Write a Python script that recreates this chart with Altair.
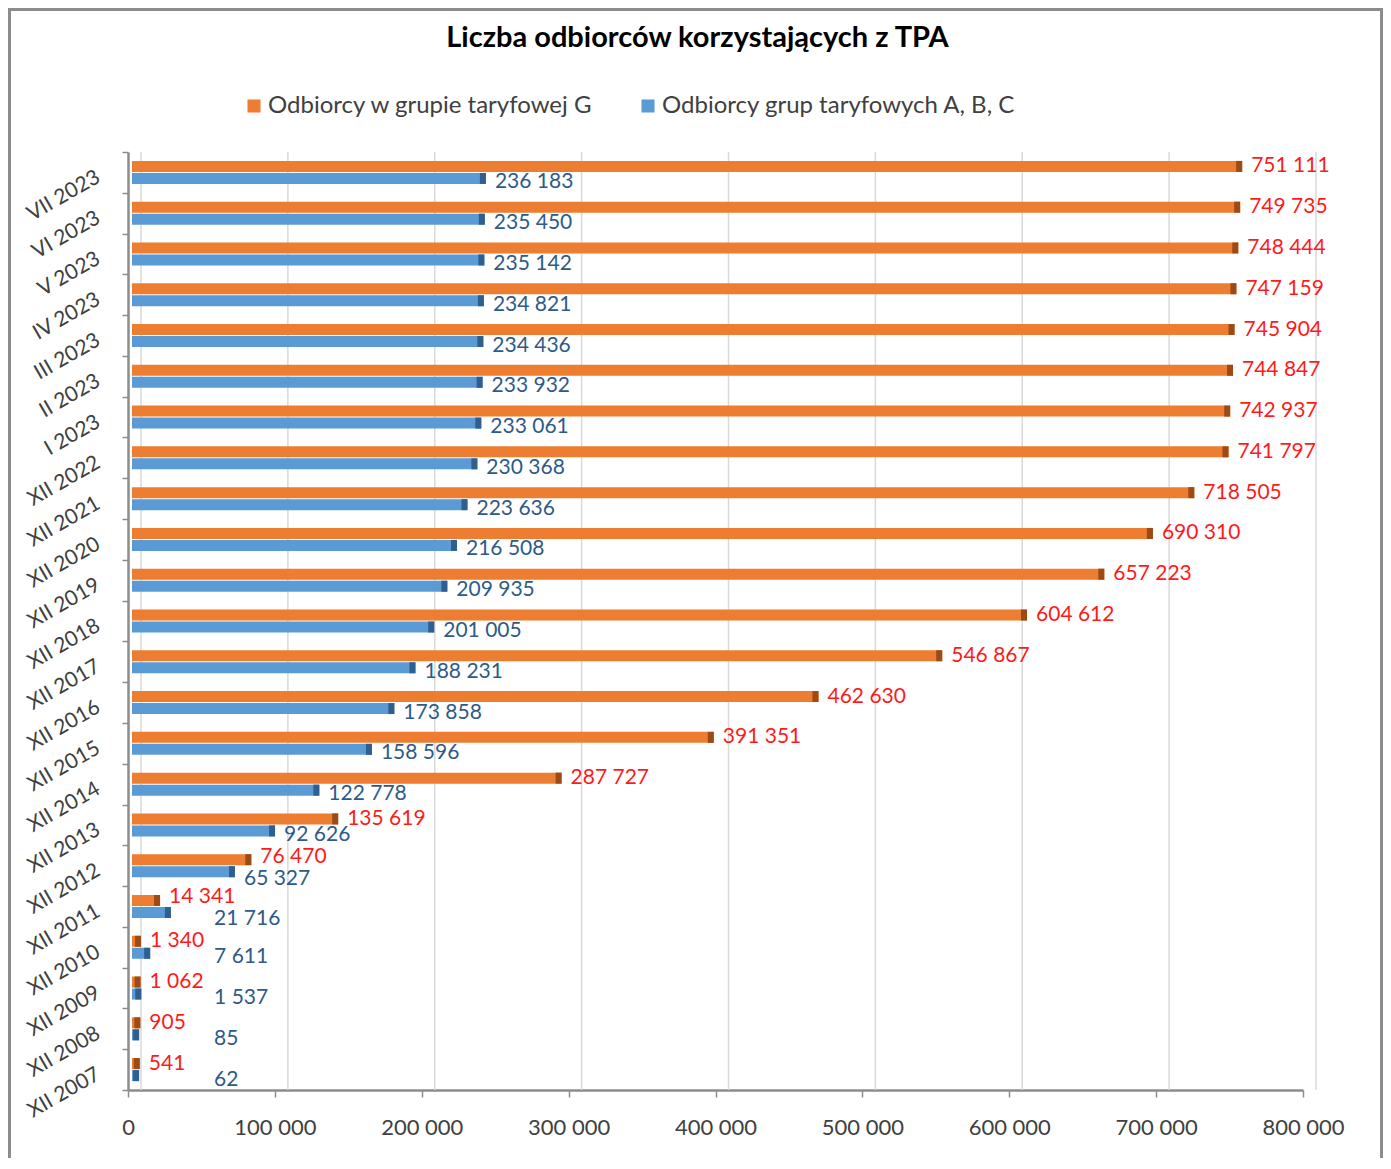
import altair as alt
import pandas as pd

categories = ["VII 2023", "VI 2023", "V 2023", "IV 2023", "III 2023", "II 2023", "I 2023",
              "XII 2022", "XII 2021", "XII 2020", "XII 2019", "XII 2018", "XII 2017",
              "XII 2016", "XII 2015", "XII 2014", "XII 2013", "XII 2012", "XII 2011",
              "XII 2010", "XII 2009", "XII 2008", "XII 2007"]
g_values = [751111, 749735, 748444, 747159, 745904, 744847, 742937, 741797, 718505,
            690310, 657223, 604612, 546867, 462630, 391351, 287727, 135619, 76470,
            14341, 1340, 1062, 905, 541]
abc_values = [236183, 235450, 235142, 234821, 234436, 233932, 233061, 230368, 223636,
              216508, 209935, 201005, 188231, 173858, 158596, 122778, 92626, 65327,
              21716, 7611, 1537, 85, 62]
x_ticks = [0, 100000, 200000, 300000, 400000, 500000, 600000, 700000, 800000]
series_names = ["Odbiorcy w grupie taryfowej G", "Odbiorcy grup taryfowych A, B, C"]
title_text = "Liczba odbiorców korzystających z TPA"

FONT = "Lato"
W, H = 1175, 938
X_MAX = 800000
MIN_BLUE_LABEL = 45000  # blue labels of tiny bars are pushed right, as in the original


def fmt(v):
    return f"{v:,}".replace(",", " ")


rows = []
for c, g, a in zip(categories, g_values, abc_values):
    rows.append(dict(cat=c, series=series_names[0], value=g, label=fmt(g)))
    rows.append(dict(cat=c, series=series_names[1], value=a, label=fmt(a)))
df = pd.DataFrame(rows)

g_df = df[df.series == series_names[0]].reset_index(drop=True)
a_df = df[df.series == series_names[1]].reset_index(drop=True)
a_df["labelpos"] = a_df["value"].clip(lower=MIN_BLUE_LABEL)

# detect rows where the two value labels would collide horizontally
unit = X_MAX / W
char_w = 11 * unit
r_start = g_df["value"]
r_end = r_start + g_df["label"].str.len() * char_w
b_start = a_df["labelpos"]
b_end = b_start + a_df["label"].str.len() * char_w
clash = (r_start < b_end - 5 * unit) & (b_start < r_end)
g_df["clash"] = clash.values
a_df["clash"] = clash.values

xscale = alt.Scale(domain=[0, X_MAX], nice=False, zero=True)
yscale = alt.Scale(domain=categories, paddingInner=0, paddingOuter=0)

xaxis = alt.Axis(
    values=x_ticks,
    labelExpr="datum.value == 0 ? '0' : format(datum.value / 1000, 'd') + ' 000'",
    grid=False, title=None, labelFlush=False,
    domainColor="#8C8C8C", domainWidth=2.5,
    tickColor="#8C8C8C", tickWidth=1.5, tickSize=7,
    labelFont=FONT, labelFontSize=22, labelColor="#404040", labelPadding=20,
)
yaxis = alt.Axis(
    title=None, tickBand="extent", grid=False,
    labelAngle=-30, labelAlign="right", labelBaseline="middle",
    labelFont=FONT, labelFontSize=21, labelColor="#404040", labelPadding=24,
    labelOffset=3,
    domainColor="#8C8C8C", domainWidth=2.5,
    tickColor="#8C8C8C", tickWidth=1.5, tickSize=6,
)

color = alt.Color(
    "series:N",
    scale=alt.Scale(domain=series_names, range=["#ED7D31", "#5B9BD5"]),
    legend=alt.Legend(
        orient="none", legendX=114, legendY=-58, direction="horizontal", title=None,
        symbolType="square", symbolSize=170, symbolStrokeWidth=0,
        labelFont=FONT, labelFontSize=24, labelColor="#404040", labelLimit=0,
        labelOffset=2, columnPadding=42,
    ),
)

X = alt.X("value:Q", scale=xscale, axis=xaxis)
Y = alt.Y("cat:N", scale=yscale, axis=yaxis, sort=categories)

border = alt.Chart(pd.DataFrame({"a": [0]})).mark_rect(
    fillOpacity=0, stroke="#8C8C8C", strokeWidth=3
).encode(
    x=alt.value(-118.5), x2=alt.value(1253.5), y=alt.value(-142.5), y2=alt.value(2000)
)

title = alt.Chart(pd.DataFrame({"t": [title_text]})).mark_text(
    font=FONT, fontSize=29, fontWeight="bold", color="#000000",
    align="center", baseline="alphabetic"
).encode(x=alt.value(569.5), y=alt.value(-105), text="t:N")

grid = alt.Chart(pd.DataFrame({"value": x_ticks})).mark_rule(
    color="#D9D9D9", strokeWidth=1.5, xOffset=13
).encode(x=X, y=alt.value(0), y2=alt.value(H))

bar_g = alt.Chart(g_df).mark_bar(height=11, yOffset=-6, xOffset=11, x2Offset=4).encode(
    x=X, x2=alt.datum(0), y=Y, color=color)
bar_a = alt.Chart(a_df).mark_bar(height=11, yOffset=6, xOffset=11, x2Offset=4).encode(
    x=X, x2=alt.datum(0), y=Y, color=color)

cap_g = alt.Chart(g_df).mark_bar(height=11, yOffset=-6, xOffset=11, x2Offset=5,
                                 color="#9C4A16").encode(x=X, x2="value:Q", y=Y)
cap_a = alt.Chart(a_df).mark_bar(height=11, yOffset=6, xOffset=11, x2Offset=5,
                                 color="#2F5F8F").encode(x=X, x2="value:Q", y=Y)


def red_labels(clash_flag, dy):
    return alt.Chart(g_df[g_df.clash == clash_flag]).mark_text(
        align="left", baseline="middle", dx=20, dy=dy, color="#FF1A1A",
        font=FONT, fontSize=21
    ).encode(x=X, y=Y, text="label:N")


def blue_labels(clash_flag, dy):
    return alt.Chart(a_df[a_df.clash == clash_flag]).mark_text(
        align="left", baseline="middle", dx=20, dy=dy, color="#2E5A88",
        font=FONT, fontSize=21
    ).encode(x=alt.X("labelpos:Q", scale=xscale, axis=xaxis), y=Y, text="label:N")


layers = [border, title, grid, bar_g, bar_a, cap_g, cap_a,
          red_labels(False, -6), red_labels(True, -9),
          blue_labels(False, 10), blue_labels(True, 13)]

chart = alt.layer(*layers).properties(
    width=W, height=H,
    padding={"left": 120, "top": 144, "right": 80, "bottom": 68},
    autosize=alt.AutoSizeParams(type="none"),
).configure_view(stroke=None)

chart.save("out.html", embed_options={"renderer": "svg", "actions": False})
